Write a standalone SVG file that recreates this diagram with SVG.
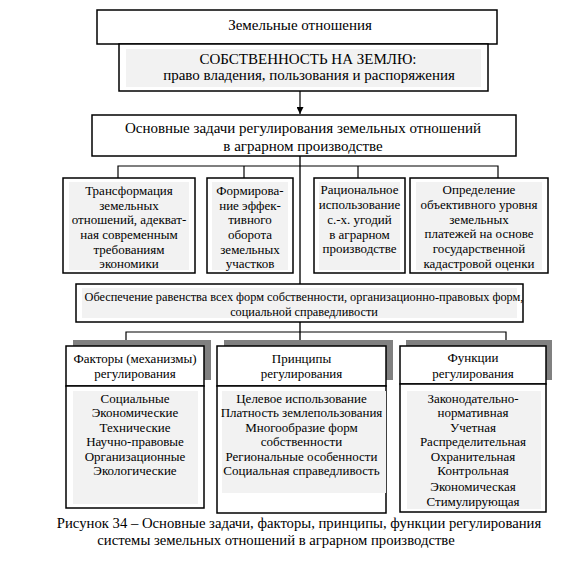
<svg xmlns="http://www.w3.org/2000/svg" width="588" height="566" viewBox="0 0 588 566" font-family="'Liberation Serif', 'Times New Roman', 'DejaVu Serif', serif">
<style>
text{font-family:'Liberation Serif','Times New Roman','DejaVu Serif',serif;fill:#000;text-anchor:middle}
.t15{font-size:15px}
.t13{font-size:13px}
.t12{font-size:12.3px}
.cap{font-size:14.7px}
.box{fill:#fff;stroke:#000;stroke-width:1.5}
.fill{fill:#f2f2f2}
.shadow{fill:#808080}
.ln{stroke:#000;stroke-width:1.2;fill:none}
.main{stroke:#555;stroke-width:2;fill:none}
</style>
<defs>
<marker id="arr" viewBox="0 0 10 10" refX="10" refY="5" markerWidth="7" markerHeight="7" orient="auto" markerUnits="userSpaceOnUse">
<path d="M0,0 L10,5 L0,10 z" fill="#000"/>
</marker>
</defs>
<rect width="588" height="566" fill="#fff"/>

<g id="connectors">
<line class="ln" x1="300" y1="91" x2="300" y2="114" marker-end="url(#arr)"/>
<line class="main" x1="300" y1="156" x2="300" y2="284"/>
<polyline class="ln" points="118,178 118,166 498,166 498,178"/>
<line class="ln" x1="244" y1="166" x2="244" y2="178"/>
<line class="ln" x1="358" y1="166" x2="358" y2="178"/>
<line class="main" x1="300" y1="322" x2="300" y2="340"/>
<polyline class="ln" points="126,346 126,332 506,332 506,340"/>
</g>

<g id="zemelnye">
<rect class="box" x="97" y="10" width="400" height="34"/>
<text class="t15" x="300" y="30">Земельные отношения</text>
</g>

<g id="sobstvennost">
<rect class="box" x="119" y="44" width="369" height="47"/>
<rect class="fill" x="126" y="49" width="355" height="38"/>
<text class="t15" x="308" y="64">СОБСТВЕННОСТЬ НА ЗЕМЛЮ:</text>
<text class="t15" x="309" y="80">право владения, пользования и распоряжения</text>
</g>

<g id="zadachi">
<rect class="box" x="92" y="115" width="424" height="41"/>
<text class="t15" x="303" y="133">Основные задачи регулирования земельных отношений</text>
<text class="t15" x="303" y="151">в аграрном производстве</text>
</g>

<g id="transformatsiya">
<rect class="box" x="63" y="178" width="132" height="95"/>
<rect class="fill" x="69" y="182" width="120" height="88"/>
<text class="t13" x="129" y="195">Трансформация</text>
<text class="t13" x="129" y="210">земельных</text>
<text class="t13" x="129" y="224">отношений, адекват-</text>
<text class="t13" x="129" y="239">ная современным</text>
<text class="t13" x="129" y="254">требованиям</text>
<text class="t13" x="129" y="268">экономики</text>
</g>

<g id="formirovanie">
<rect class="box" x="207" y="178" width="86" height="95"/>
<rect class="fill" x="212" y="182" width="76" height="88"/>
<text class="t13" x="250" y="195">Формирова-</text>
<text class="t13" x="250" y="210">ние эффек-</text>
<text class="t13" x="250" y="224">тивного</text>
<text class="t13" x="250" y="239">оборота</text>
<text class="t13" x="250" y="254">земельных</text>
<text class="t13" x="250" y="268">участков</text>
</g>

<g id="ratsionalnoe">
<rect class="box" x="314" y="178" width="91" height="95"/>
<rect class="fill" x="319" y="182" width="81" height="88"/>
<text class="t13" x="359.5" y="194">Рациональное</text>
<text class="t13" x="359.5" y="209">использование</text>
<text class="t13" x="359.5" y="224">с.-х. угодий</text>
<text class="t13" x="359.5" y="239">в аграрном</text>
<text class="t13" x="359.5" y="253">производстве</text>
</g>

<g id="opredelenie">
<rect class="box" x="410" y="178" width="138" height="95"/>
<rect class="fill" x="416" y="182" width="126" height="88"/>
<text class="t13" x="479" y="194">Определение</text>
<text class="t13" x="479" y="209">объективного уровня</text>
<text class="t13" x="479" y="224">земельных</text>
<text class="t13" x="479" y="238">платежей на основе</text>
<text class="t13" x="479" y="253">государственной</text>
<text class="t13" x="479" y="268">кадастровой оценки</text>
</g>

<g id="obespechenie">
<rect class="box" x="76" y="284" width="447" height="38"/>
<rect class="fill" x="82" y="288" width="435" height="30"/>
<text class="t12" x="304" y="301">Обеспечение равенства всех форм собственности, организационно-правовых форм,</text>
<text class="t12" x="304" y="316">социальной справедливости</text>
</g>

<g id="faktory">
<rect class="shadow" x="73" y="340" width="138" height="40"/>
<rect class="box" x="66" y="346" width="138" height="40"/>
<rect class="box" x="66" y="386" width="138" height="122"/>
<rect class="fill" x="73" y="391" width="125" height="113"/>
<text class="t13" x="135" y="363">Факторы (механизмы)</text>
<text class="t13" x="135" y="378">регулирования</text>
<text class="t13" x="135" y="403">Социальные</text>
<text class="t13" x="135" y="417">Экономические</text>
<text class="t13" x="135" y="432">Технические</text>
<text class="t13" x="135" y="446">Научно-правовые</text>
<text class="t13" x="135" y="461">Организационные</text>
<text class="t13" x="135" y="475">Экологические</text>
</g>

<g id="printsipy">
<rect class="shadow" x="224" y="340" width="169" height="40"/>
<rect class="box" x="217" y="346" width="169" height="40"/>
<rect class="box" x="217" y="386" width="169" height="127"/>
<rect class="fill" x="222" y="391" width="164" height="102"/>
<text class="t13" x="301.5" y="363">Принципы</text>
<text class="t13" x="301.5" y="378">регулирования</text>
<text class="t13" x="301.5" y="403">Целевое использование</text>
<text class="t13" x="301.5" y="417">Платность землепользования</text>
<text class="t13" x="301.5" y="432">Многообразие форм</text>
<text class="t13" x="301.5" y="446">собственности</text>
<text class="t13" x="301.5" y="461">Региональные особенности</text>
<text class="t13" x="301.5" y="475">Социальная справедливость</text>
</g>

<g id="funktsii">
<rect class="shadow" x="406" y="340" width="146" height="40"/>
<rect class="box" x="400" y="346" width="146" height="38"/>
<rect class="box" x="400" y="384" width="146" height="128"/>
<rect class="fill" x="407" y="391" width="134" height="118"/>
<text class="t13" x="473" y="362">Функции</text>
<text class="t13" x="473" y="378">регулирования</text>
<text class="t13" x="473" y="403">Законодательно-</text>
<text class="t13" x="473" y="417">нормативная</text>
<text class="t13" x="473" y="432">Учетная</text>
<text class="t13" x="473" y="446">Распределительная</text>
<text class="t13" x="473" y="461">Охранительная</text>
<text class="t13" x="473" y="475">Контрольная</text>
<text class="t13" x="473" y="491">Экономическая</text>
<text class="t13" x="473" y="506">Стимулирующая</text>
</g>

<g id="caption">
<text class="cap" x="299" y="528">Рисунок 34 – Основные задачи, факторы, принципы, функции регулирования</text>
<text class="cap" x="276" y="545">системы земельных отношений в аграрном производстве</text>
</g>
</svg>
